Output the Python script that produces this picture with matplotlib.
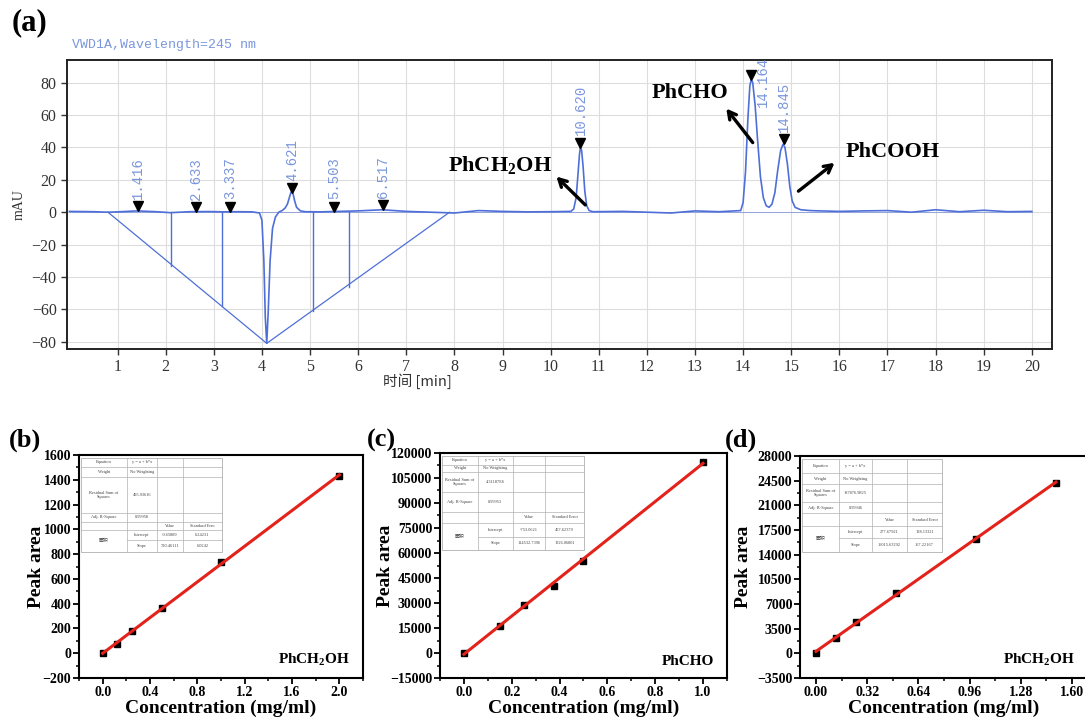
import numpy as np
import matplotlib
matplotlib.use("Agg")
import matplotlib.pyplot as plt
from matplotlib.ticker import MultipleLocator

plt.rcParams["mathtext.fontset"] = "custom"
plt.rcParams["mathtext.rm"] = "Liberation Serif"
plt.rcParams["mathtext.bf"] = "Liberation Serif:bold"

# ---------------- data ----------------
# (a) chromatogram trace (time in min, signal in mAU)
trace_t = [0.0, 0.5, 0.8, 1.0, 1.4, 1.8, 2.1, 2.5, 2.9, 3.2, 3.5, 3.8, 3.95, 4.0, 4.04,
           4.07, 4.1, 4.13, 4.17, 4.22, 4.28, 4.35, 4.42, 4.48, 4.53, 4.57, 4.6, 4.62,
           4.65, 4.68, 4.72, 4.8, 4.9, 5.2, 5.6, 6.0, 6.5, 7.0, 7.5, 8.0, 8.5, 9.0, 9.5,
           10.0, 10.42, 10.48, 10.53, 10.57, 10.6, 10.62, 10.645, 10.675, 10.71, 10.75,
           10.8, 10.88, 11.5, 12.0, 12.5, 13.0, 13.5, 13.95, 14.0, 14.05, 14.1, 14.14,
           14.17, 14.2, 14.25, 14.3, 14.36, 14.42, 14.48, 14.54, 14.6, 14.66, 14.72,
           14.78, 14.83, 14.87, 14.92, 14.97, 15.02, 15.08, 15.2, 15.4, 15.6, 16.0, 16.5,
           17.0, 17.5, 18.0, 18.5, 19.0, 19.5, 20.0]
trace_y = [0.5, 0.3, 0.0, 0.2, 0.8, 0.3, -0.3, 0.3, 0.4, 0.2, 0.3, 0.2, -0.5, -5.0, -30.0,
           -65.0, -81.0, -62.0, -30.0, -10.0, -3.0, 0.0, 1.0, 2.5, 5.0, 9.0, 12.0, 13.0,
           11.0, 7.0, 3.0, 0.8, 0.3, 0.2, 0.5, 0.8, 1.5, 0.5, 0.0, -0.5, 1.0, 0.5, 0.2,
           0.3, 0.5, 2.0, 9.0, 24.0, 36.0, 40.0, 38.0, 28.0, 13.0, 4.0,
           1.0, 0.3, 0.5, 0.0, -0.5, 0.8, 0.3, 1.0, 6.0, 25.0, 58.0, 78.0,
           82.0, 80.0, 66.0, 45.0, 22.0, 9.0, 4.0, 3.0, 5.0, 12.0, 26.0,
           38.0, 42.0, 40.0, 30.0, 16.0, 7.0, 3.0, 1.5, 1.0, 0.8, 0.5, 0.8,
           1.0, 0.0, 1.5, 0.3, 1.2, 0.3, 0.5]
# integration baseline (triangle) and drop lines
base_t = [0.8, 4.1, 7.9]
base_y = [0.0, -81.0, 0.0]
drop_t = [2.12, 3.17, 5.07, 5.8]
drop_y = [-33.0, -58.0, -61.0, -46.0]
# peak retention times and apex heights
peak_rt = [1.416, 2.633, 3.337, 4.621, 5.503, 6.517, 10.620, 14.164, 14.845]
peak_h = [0.8, 0.3, 0.4, 12.0, 0.5, 1.5, 40.0, 82.0, 42.0]
peak_lbl = ["1.416", "2.633", "3.337", "4.621", "5.503", "6.517", "10.620", "14.164", "14.845"]

# (b) PhCH2OH calibration
b_x = [0.0, 0.125, 0.25, 0.5, 1.0, 2.0]
b_y = [0.0, 75.0, 180.0, 365.0, 740.0, 1430.0]
b_fit = (-0.65889, 720.46111)
b_table = ["495.93616", "0.99958", "-0.65889", "6.24231", "720.46111", "6.0242", "Standard Erro"]

# (c) PhCHO calibration
c_x = [0.0, 0.15, 0.25, 0.375, 0.5, 1.0]
c_y = [0.0, 16000.0, 29000.0, 40500.0, 55500.0, 114500.0]
c_fit = (-753.0621, 114532.7396)
c_table = ["4.31187E6", "0.99953", "-753.0621", "457.62379", "114532.7396", "1326.06801", "Standard Error"]

# (d) PhCH2OH calibration
d_x = [0.0, 0.125, 0.25, 0.5, 1.0, 1.5]
d_y = [0.0, 2200.0, 4500.0, 8500.0, 16200.0, 24200.0]
d_fit = (277.67921, 16015.63292)
d_table = ["187876.9825", "0.99946", "277.67921", "128.13321", "16015.63292", "167.22167", "Standard Error"]

# ---------------- figure ----------------
fig = plt.figure(figsize=(10.85, 7.22), dpi=100)
SERIF = "Liberation Serif"
BLUE = "#4f6fd8"
LBLUE = "#7a96dc"

# ----- (a) -----
ax = fig.add_axes([0.0618, 0.5166, 0.9078, 0.4003])
ax.plot(trace_t, trace_y, color=BLUE, lw=1.2, zorder=3)
ax.plot(base_t, base_y, color=BLUE, lw=0.9, zorder=3)
for t, y in zip(drop_t, drop_y):
    ax.plot([t, t], [0, y], color=BLUE, lw=1.0, zorder=3)
ax.plot([0.0, 20.0], [0, 0], color=BLUE, lw=0.6, alpha=0.6, zorder=2)
ax.set_xlim(-0.05, 20.42)
ax.set_ylim(-84.5, 94)
ax.set_xticks(range(1, 21))
ax.set_yticks(range(-80, 81, 20))
ax.grid(True, color="#dddddd", lw=0.8, zorder=0)
ax.tick_params(direction="out", length=4, width=1, labelsize=11.5, colors="#333333")
for lab in ax.get_xticklabels() + ax.get_yticklabels():
    lab.set_fontfamily(SERIF)
for s in ax.spines.values():
    s.set_linewidth(1.4)
    s.set_color("#222222")
for rt, h, lb in zip(peak_rt, peak_h, peak_lbl):
    my = h + 3.0
    ax.plot(rt, my, marker="v", color="black", ms=7.5, zorder=5, clip_on=False)
    ty = my + 4.5
    tx = rt
    if lb == "14.164":
        ty = my - 20
        tx = rt + 0.25
    ax.text(tx, ty, lb, rotation=90, ha="center", va="bottom", color=LBLUE,
            fontsize=10, family="Liberation Mono", zorder=6)
ax.set_xlabel("时间 [min]", family=["Noto Sans CJK SC", "DejaVu Sans"], fontsize=10.5,
              color="#333333", labelpad=2)
ax.xaxis.set_label_coords(0.356, -0.085)
ax.set_ylabel("mAU", family=SERIF, fontsize=10, color="#333333", labelpad=4)
fig.text(0.0665, 0.938, "VWD1A,Wavelength=245 nm", color=LBLUE, fontsize=9.5,
         family="Liberation Mono", va="center")
fig.text(0.011, 0.968, "(a)", fontsize=22, fontweight="bold", family=SERIF, va="center")

ann_kw = dict(arrowprops=dict(arrowstyle="->,head_length=0.55,head_width=0.3", color="black",
                              lw=2.4, shrinkA=0, shrinkB=0))
txt_kw = dict(fontsize=16, fontweight="bold", family=SERIF, ha="center", va="center")
ax.annotate("", xy=(10.12, 22), xytext=(10.72, 4.5), **ann_kw)
ax.text(8.95, 29, r"PhCH$_\mathbf{2}$OH", **txt_kw)
ax.annotate("", xy=(13.65, 64), xytext=(14.2, 43), **ann_kw)
ax.text(12.9, 73.5, "PhCHO", **txt_kw)
ax.annotate("", xy=(15.9, 30.5), xytext=(15.15, 13), **ann_kw)
ax.text(17.1, 37, "PhCOOH", **txt_kw)


# ----- calibration panels -----
def draw_table(a, xs, ys, vals):
    lc = "#b0b0b0"
    tr = a.transAxes
    x0, x1 = xs[0], xs[-1]
    yt = [1 - v for v in ys]
    a.add_patch(plt.Rectangle((x0, yt[-1]), x1 - x0, yt[0] - yt[-1], transform=tr,
                              facecolor="white", edgecolor=lc, lw=0.6, zorder=4))
    for i, y in enumerate(yt[1:-1], start=1):
        start = xs[1] if i == 6 else x0
        a.plot([start, x1], [y, y], transform=tr, color=lc, lw=0.5, zorder=5)
    for x in xs[1:-1]:
        a.plot([x, x], [yt[0], yt[-1]], transform=tr, color=lc, lw=0.5, zorder=5)
    cells = [
        ["Equation", "y = a + b*x", "", ""],
        ["Weight", "No Weighting", "", ""],
        ["Residual Sum of\nSquares", vals[0], "", ""],
        ["Adj. R-Square", vals[1], "", ""],
        ["", "", "Value", vals[6]],
        ["", "Intercept", vals[2], vals[3]],
        ["", "Slope", vals[4], vals[5]],
    ]
    for r, row in enumerate(cells):
        for cidx, txt in enumerate(row):
            if not txt:
                continue
            cx = (xs[cidx] + xs[cidx + 1]) / 2
            cy = (yt[r] + yt[r + 1]) / 2
            a.text(cx, cy, txt, transform=tr, fontsize=3.2, ha="center", va="center",
                   color="#444444", family=SERIF, zorder=6, linespacing=1.0)
    a.text((xs[0] + xs[1]) / 2, (yt[5] + yt[7]) / 2, "面积", transform=tr, fontsize=3.5,
           ha="center", va="center", color="#444444",
           family=["Noto Sans CJK SC", "DejaVu Sans"], zorder=6)


def calib(rect, x, y, fit, xlim, ylim, xmaj, xmin, ymaj, ymin, xfmt, name, tag, tagx,
          ylab_x, tab_xs, tab_ys, tab_vals):
    a = fig.add_axes(rect)
    xx = np.array([x[0], x[-1]])
    a.plot(xx, fit[0] + fit[1] * xx, color="#e3231b", lw=2.2, zorder=3)
    a.plot(x, y, ls="none", marker="s", ms=5, color="black", zorder=2)
    a.set_xlim(*xlim)
    a.set_ylim(*ylim)
    a.xaxis.set_major_locator(MultipleLocator(xmaj))
    a.xaxis.set_minor_locator(MultipleLocator(xmin))
    a.yaxis.set_major_locator(MultipleLocator(ymaj))
    a.yaxis.set_minor_locator(MultipleLocator(ymin))
    a.xaxis.set_major_formatter(plt.FuncFormatter(lambda v, p: xfmt.format(v)))
    a.tick_params(which="major", direction="out", length=4, width=1.3, labelsize=10, pad=1.5)
    a.tick_params(which="minor", direction="out", length=2.5, width=1.1)
    a.tick_params(top=False, right=False, which="both")
    for lab in a.get_xticklabels() + a.get_yticklabels():
        lab.set_fontfamily(SERIF)
        lab.set_fontweight("bold")
    for s in a.spines.values():
        s.set_linewidth(1.5)
    a.set_xlabel("Concentration (mg/ml)", fontsize=14, fontweight="bold", family=SERIF,
                 labelpad=1)
    a.set_ylabel("Peak area", fontsize=14, fontweight="bold", family=SERIF)
    a.yaxis.set_label_coords(ylab_x, 0.5)
    a.text(0.955, 0.045, name, transform=a.transAxes, fontsize=11, fontweight="bold",
           family=SERIF, ha="right", va="bottom")
    fig.text(tagx, 0.39, tag, fontsize=19, fontweight="bold", family=SERIF, va="center")
    draw_table(a, tab_xs, tab_ys, tab_vals)
    return a


calib([0.0728, 0.0609, 0.2618, 0.3089], b_x, b_y, b_fit, (-0.2, 2.2), (-200, 1600),
      0.4, 0.2, 200, 100, "{:.1f}", r"PhCH$_\mathbf{2}$OH", "(b)", 0.008, -0.118,
      [0.007, 0.169, 0.275, 0.366, 0.504],
      [0.013, 0.054, 0.099, 0.260, 0.300, 0.336, 0.381, 0.435], b_table)
calib([0.4055, 0.0609, 0.2645, 0.3117], c_x, c_y, c_fit, (-0.1, 1.1), (-15000, 120000),
      0.2, 0.1, 15000, 7500, "{:.1f}", "PhCHO", "(c)", 0.338, -0.16,
      [0.007, 0.132, 0.254, 0.366, 0.502],
      [0.013, 0.053, 0.084, 0.173, 0.262, 0.311, 0.373, 0.431], c_table)
calib([0.7373, 0.0609, 0.2654, 0.3075], d_x, d_y, d_fit, (-0.1, 1.7), (-3500, 28000),
      0.32, 0.16, 3500, 1750, "{:.2f}", r"PhCH$_\mathbf{2}$OH", "(d)", 0.668, -0.165,
      [0.007, 0.135, 0.250, 0.372, 0.493],
      [0.014, 0.077, 0.126, 0.207, 0.257, 0.315, 0.369, 0.432], d_table)

fig.savefig("out.png", dpi=100)
